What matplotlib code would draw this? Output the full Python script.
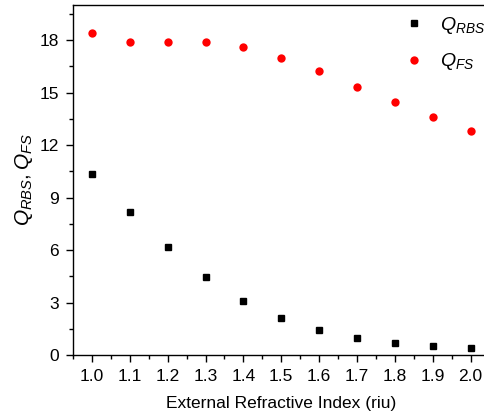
import numpy as np
import matplotlib.pyplot as plt
from matplotlib.ticker import MultipleLocator

plt.rcParams['font.family'] = ['Liberation Sans', 'DejaVu Sans']
plt.rcParams['mathtext.fontset'] = 'custom'
plt.rcParams['mathtext.rm'] = 'Liberation Sans'
plt.rcParams['mathtext.it'] = 'Liberation Sans:italic'

# refractive index sweep
n_ext = [1.0, 1.1, 1.2, 1.3, 1.4, 1.5, 1.6, 1.7, 1.8, 1.9, 2.0]
q_rbs = [10.36, 8.19, 6.19, 4.47, 3.10, 2.11, 1.41, 0.95, 0.67, 0.51, 0.42]
q_fs = [18.38, 17.89, 17.89, 17.89, 17.58, 16.99, 16.23, 15.31, 14.47, 13.62, 12.82]

fig = plt.figure(figsize=(4.84, 4.19), dpi=100)
ax = fig.add_axes([0.1508, 0.1527, 0.8607, 0.8353])

ax.plot(n_ext, q_rbs, 's', color='black', markersize=5, label=r'$Q_{RBS}$', clip_on=False)
ax.plot(n_ext, q_fs, 'o', color='#ff0000', markersize=6, markeredgewidth=0,
        label=r'$Q_{FS}$', clip_on=False)

ax.set_xlim(0.95, 2.05)
ax.set_ylim(0, 20)
ax.xaxis.set_minor_locator(MultipleLocator(0.05))
ax.yaxis.set_major_locator(MultipleLocator(3))
ax.yaxis.set_minor_locator(MultipleLocator(1.5))
ax.set_xticks(n_ext)
ax.set_xticklabels(['%.1f' % v for v in n_ext])

ax.tick_params(which='major', direction='out', length=5, width=1, labelsize=12.5, pad=5)
ax.tick_params(which='minor', direction='out', length=3, width=1)
for s in ax.spines.values():
    s.set_linewidth(1)

ax.set_xlabel('External Refractive Index (riu)', fontsize=12.5, labelpad=9)
ax.set_ylabel(r'$Q_{RBS}, Q_{FS}$', fontsize=15, labelpad=3)

ax.legend(loc='upper left', bbox_to_anchor=(0.793, 0.972), frameon=False, fontsize=14,
          handletextpad=0.85, labelspacing=0.8, borderaxespad=0, borderpad=0,
          handlelength=1.05)

plt.savefig('out.png', dpi=100)
